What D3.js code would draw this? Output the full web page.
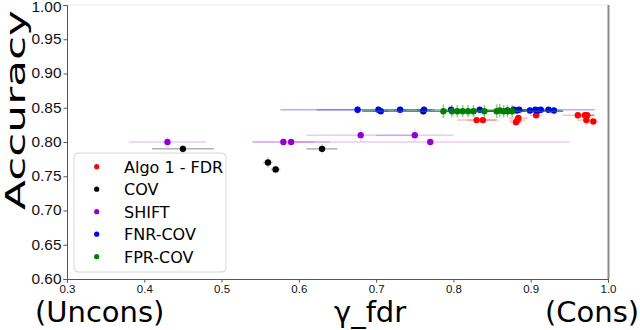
<!DOCTYPE html>
<html>
<head>
<meta charset="utf-8">
<script src="https://cdn.jsdelivr.net/npm/d3@7"></script>
<style>
  body { margin: 0; background: #fff; }
  svg { font-family: "DejaVu Sans", sans-serif; }
</style>
</head>
<body>
<div id="chart"></div>
<script>
var width = 640, height = 330;

// series
var seriesNames = ["Algo 1 - FDR", "COV", "SHIFT", "FNR-COV", "FPR-COV"];
var seriesColors = ["red", "black", "darkviolet", "blue", "green"];

var algoGamma = [0.830, 0.838, 0.881, 0.883, 0.884, 0.907, 0.961, 0.970, 0.973, 0.972, 0.981];
var algoAcc   = [0.832, 0.832, 0.829, 0.832, 0.835, 0.839, 0.839, 0.839, 0.839, 0.832, 0.830];
var algoXerr  = [0.025, 0.020, 0.008, 0.010, 0.012, 0.008, 0.020, 0.012, 0.010, 0.012, 0.006];
var algoYerr  = [0.004, 0.003, 0.003, 0.003, 0.004, 0.003, 0.003, 0.003, 0.003, 0.008, 0.004];

var covGamma = [0.45, 0.56, 0.57, 0.63, 0.761];
var covAcc   = [0.790, 0.770, 0.760, 0.790, 0.845];
var covXerr  = [0.040, 0.006, 0.006, 0.020, 0.005];
var covYerr  = [0.006, 0.008, 0.006, 0.007, 0.005];

var shiftGamma = [0.43, 0.58, 0.59, 0.68, 0.75, 0.77];
var shiftAcc   = [0.800, 0.800, 0.800, 0.810, 0.810, 0.800];
var shiftXerr  = [0.05, 0.04, 0.05, 0.07, 0.05, 0.18];
var shiftYerr  = [0.008, 0.003, 0.003, 0.010, 0.010, 0.003];

var fnrGamma = [0.676, 0.703, 0.706, 0.731, 0.762, 0.797, 0.834, 0.870, 0.878, 0.882, 0.885, 0.899, 0.906, 0.910, 0.913, 0.923, 0.930];
var fnrAcc   = [0.847, 0.847, 0.845, 0.847, 0.847, 0.847, 0.847, 0.846, 0.847, 0.846, 0.847, 0.846, 0.847, 0.846, 0.847, 0.847, 0.846];
var fnrXerr  = [0.100, 0.080, 0.010, 0.008, 0.010, 0.010, 0.010, 0.010, 0.020, 0.010, 0.010, 0.010, 0.010, 0.010, 0.070, 0.010, 0.010];
var fnrYerr  = [0.006, 0.006, 0.004, 0.005, 0.005, 0.004, 0.004, 0.004, 0.005, 0.004, 0.004, 0.004, 0.004, 0.004, 0.004, 0.004, 0.004];

var fprGamma = [0.787, 0.798, 0.805, 0.812, 0.819, 0.826, 0.840, 0.856, 0.860, 0.865, 0.870, 0.876];
var fprAcc   = [0.845, 0.845, 0.845, 0.845, 0.845, 0.845, 0.845, 0.845, 0.846, 0.845, 0.845, 0.845];
var fprXerr  = [0.105, 0.008, 0.006, 0.006, 0.006, 0.006, 0.008, 0.008, 0.006, 0.006, 0.006, 0.066];
var fprYerr  = [0.010, 0.009, 0.009, 0.009, 0.009, 0.009, 0.009, 0.010, 0.010, 0.009, 0.009, 0.009];

var xTicks = [0.3, 0.4, 0.5, 0.6, 0.7, 0.8, 0.9, 1.0];
var yTicks = [0.60, 0.65, 0.70, 0.75, 0.80, 0.85, 0.90, 0.95, 1.00];

function zipSeries(g, a, xe, ye) {
  return g.map(function(d, i) { return {x: d, y: a[i], xe: xe[i], ye: ye[i]}; });
}
var allSeries = [
  zipSeries(algoGamma, algoAcc, algoXerr, algoYerr),
  zipSeries(covGamma, covAcc, covXerr, covYerr),
  zipSeries(shiftGamma, shiftAcc, shiftXerr, shiftYerr),
  zipSeries(fnrGamma, fnrAcc, fnrXerr, fnrYerr),
  zipSeries(fprGamma, fprAcc, fprXerr, fprYerr)
];
// error bar opacity per series
var errOpacity = [0.25, 0.3, 0.2, 0.3, 0.7];

var x = d3.scaleLinear().domain([0.3, 1.0]).range([67, 608]);
var y = d3.scaleLinear().domain([0.6, 1.0]).range([279, 5]);

var svg = d3.select("#chart").append("svg")
  .attr("width", width)
  .attr("height", height);

// spines
svg.append("line").attr("x1", 67).attr("x2", 608).attr("y1", 5).attr("y2", 5)
   .style("stroke", "#ebebeb").style("stroke-width", 1.2);
svg.append("line").attr("x1", 608.5).attr("x2", 608.5).attr("y1", 5).attr("y2", 279)
   .style("stroke", "#8a8a8a").style("stroke-width", 2);

// axes
var xAxis = svg.append("g")
  .attr("transform", "translate(0,279)")
  .call(d3.axisBottom(x).tickValues(xTicks).tickSize(3.5).tickPadding(2).tickFormat(d3.format(".1f")));
xAxis.select(".domain").style("stroke", "#555");
xAxis.selectAll(".tick line").style("stroke", "#555");
xAxis.selectAll("text").style("font-size", "11.5px").style("fill", "#111");

var yAxis = svg.append("g")
  .attr("transform", "translate(67,0)")
  .call(d3.axisLeft(y).tickValues(yTicks).tickSize(3.5).tickPadding(2).tickFormat(d3.format(".2f")));
yAxis.select(".domain").style("stroke", "#555");
yAxis.selectAll(".tick line").style("stroke", "#555");
yAxis.selectAll("text")
  .style("font-size", "14px").style("fill", "#111")
  .attr("textLength", 30).attr("lengthAdjust", "spacingAndGlyphs");
// keep the top label inside the picture
yAxis.selectAll(".tick text").filter(function(d) { return d === 1.0; }).attr("dy", "0.45em");

// data
var plot = svg.append("g");
allSeries.forEach(function(series, k) {
  var g = plot.append("g");
  var col = seriesColors[k];
  g.selectAll(".xerr").data(series).enter().append("line")
    .attr("x1", function(d) { return x(d.x - d.xe); })
    .attr("x2", function(d) { return x(d.x + d.xe); })
    .attr("y1", function(d) { return y(d.y); })
    .attr("y2", function(d) { return y(d.y); })
    .style("stroke", col).style("stroke-width", 1.5).style("opacity", errOpacity[k]);
  g.selectAll(".yerr").data(series).enter().append("line")
    .attr("x1", function(d) { return x(d.x); })
    .attr("x2", function(d) { return x(d.x); })
    .attr("y1", function(d) { return y(d.y - d.ye); })
    .attr("y2", function(d) { return y(d.y + d.ye); })
    .style("stroke", col).style("stroke-width", 1.5).style("opacity", errOpacity[k] * 0.6);
  g.selectAll("circle").data(series).enter().append("circle")
    .attr("cx", function(d) { return x(d.x); })
    .attr("cy", function(d) { return y(d.y); })
    .attr("r", 3.2)
    .style("fill", col);
});

// labels
svg.append("text")
  .attr("transform", "translate(25,110) rotate(-90)")
  .attr("text-anchor", "middle")
  .attr("textLength", 200).attr("lengthAdjust", "spacingAndGlyphs")
  .style("font-size", "26px").style("fill", "#000")
  .text("Accuracy");

svg.append("text").attr("x", 35).attr("y", 322)
  .style("font-size", "29px").text("(Uncons)");
svg.append("text").attr("x", 334).attr("y", 322)
  .style("font-size", "29px").text("γ_fdr");
svg.append("text").attr("x", 545).attr("y", 322)
  .style("font-size", "29px").text("(Cons)");

// legend
var legend = svg.append("g");
legend.append("rect")
  .attr("x", 74).attr("y", 153).attr("width", 152).attr("height", 119)
  .attr("rx", 4)
  .style("fill", "#fff").style("fill-opacity", 0.8)
  .style("stroke", "#d6d6d6").style("stroke-width", 1);
var rows = legend.selectAll(".row").data(seriesNames).enter().append("g")
  .attr("transform", function(d, i) { return "translate(0," + (166.7 + i * 22.5) + ")"; });
rows.append("circle").attr("cx", 96.7).attr("cy", 0).attr("r", 2.6)
  .style("fill", function(d, i) { return seriesColors[i]; });
rows.append("text").attr("x", 124).attr("y", 6)
  .style("font-size", "16px").style("fill", "#000")
  .text(function(d) { return d; });
</script>
</body>
</html>
